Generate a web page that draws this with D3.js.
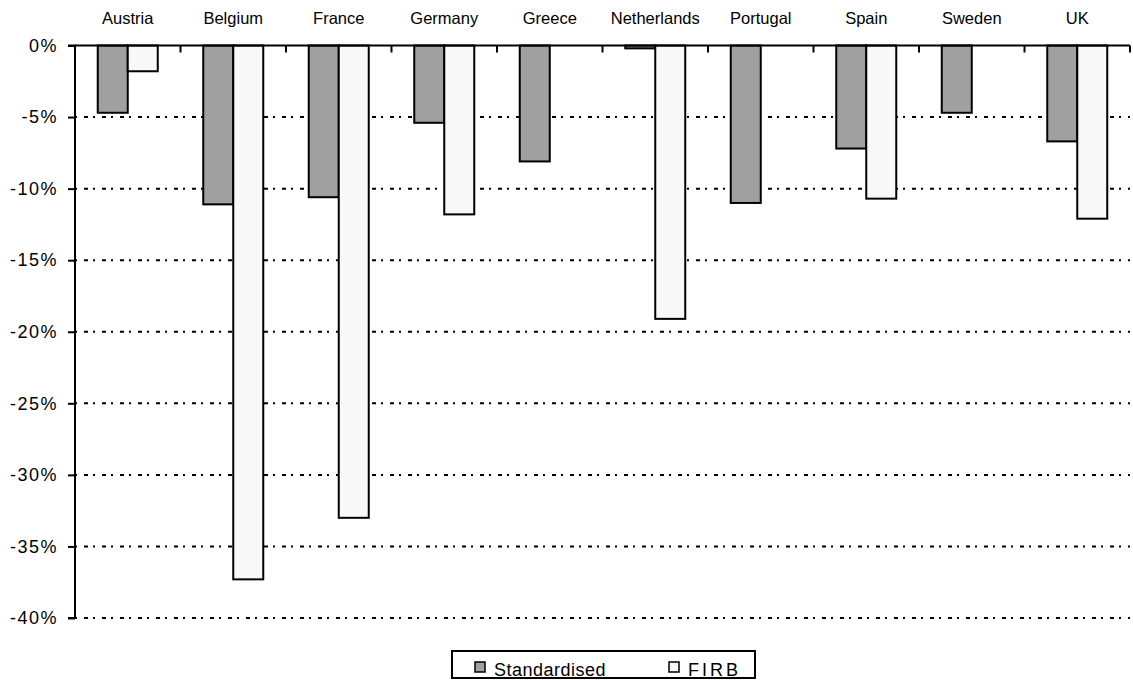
<!DOCTYPE html>
<html>
<head>
<meta charset="utf-8">
<script src="https://cdn.jsdelivr.net/npm/d3@7"></script>
<style>
  html, body { margin: 0; padding: 0; background: #fff; }
  svg { display: block; }
  text { font-family: "Liberation Sans", Arial, sans-serif; fill: #000; }
</style>
</head>
<body>
<svg id="chart" width="1133" height="680"></svg>
<script>
// Countries along the top of the chart
const categories = ["Austria", "Belgium", "France", "Germany", "Greece",
                    "Netherlands", "Portugal", "Spain", "Sweden", "UK"];
// Change in capital requirement (%), by approach
const standardised = [-4.7, -11.1, -10.6, -5.4, -8.1, -0.2, -11.0, -7.2, -4.7, -6.7];
const firb         = [-1.8, -37.3, -33.0, -11.8, null, -19.1, null, -10.7, null, -12.1];
const seriesNames  = ["Standardised", "FIRB"];
const yTicks       = [0, -5, -10, -15, -20, -25, -30, -35, -40];

const svg = d3.select("#chart");
const plotLeft = 75, plotRight = 1130, plotTop = 45.5, plotBottom = 618;

const x0 = d3.scaleBand().domain(categories).range([plotLeft, plotRight]).paddingInner(0).paddingOuter(0);
const groupW = 60;
const x1 = d3.scaleBand().domain(seriesNames).range([0, groupW]);
const y = d3.scaleLinear().domain([0, -40]).range([plotTop, plotBottom]);

const fills = { "Standardised": "#a0a0a0", "FIRB": "#f8f8f8" };

// Dotted horizontal gridlines
svg.append("g")
  .selectAll("line")
  .data(yTicks.filter(d => d !== 0))
  .join("line")
  .attr("x1", plotLeft).attr("x2", plotRight)
  .attr("y1", d => y(d)).attr("y2", d => y(d))
  .attr("stroke", "#000").attr("stroke-width", 2)
  .attr("stroke-dasharray", "2,7,4,5");

// Bars, hanging down from the zero line
const rows = categories.map((c, i) => ({ c, vals: [
  { s: "Standardised", v: standardised[i] },
  { s: "FIRB", v: firb[i] }
].filter(d => d.v !== null) }));

const groups = svg.append("g").selectAll("g")
  .data(rows).join("g")
  .attr("transform", d => `translate(${x0(d.c) + (x0.bandwidth() - groupW) / 2},0)`);

groups.selectAll("rect")
  .data(d => d.vals)
  .join("rect")
  .attr("x", d => x1(d.s))
  .attr("width", x1.bandwidth())
  .attr("y", y(0))
  .attr("height", d => y(d.v) - y(0))
  .attr("fill", d => fills[d.s])
  .attr("stroke", "#000").attr("stroke-width", 2);

// Y axis
const yAxis = d3.axisLeft(y).tickValues(yTicks).tickSize(7).tickPadding(10)
  .tickFormat(d => d + "%");
const gy = svg.append("g").attr("transform", `translate(${plotLeft},0)`).call(yAxis);
gy.select(".domain").attr("stroke", "#000").attr("stroke-width", 2)
  .attr("d", `M-7,${plotTop}H0V${plotBottom}H-7`);
gy.selectAll(".tick line").attr("stroke", "#000").attr("stroke-width", 2);
gy.selectAll(".tick text")
  .style("font-family", "'Liberation Sans', Arial, sans-serif")
  .style("font-size", "18px").style("letter-spacing", "1.5px")
  .attr("fill", "#000");

// Category axis along the zero line, labels above
const xAxis = d3.axisTop(x0).tickSize(0).tickPadding(22);
const gx = svg.append("g").attr("transform", `translate(0,${plotTop})`).call(xAxis);
gx.select(".domain").remove();
gx.selectAll(".tick text")
  .style("font-family", "'Liberation Sans', Arial, sans-serif")
  .style("font-size", "16.5px")
  .attr("fill", "#000");
svg.append("line").attr("x1", plotLeft).attr("x2", plotRight).attr("y1", plotTop).attr("y2", plotTop)
  .attr("stroke", "#000").attr("stroke-width", 2);
// Tick marks between categories, pointing into the plot
const bounds = categories.slice(1).map(c => x0(c)).concat([plotRight]);
svg.append("g").selectAll("line").data(bounds).join("line")
  .attr("x1", d => d).attr("x2", d => d)
  .attr("y1", plotTop).attr("y2", plotTop + 7)
  .attr("stroke", "#000").attr("stroke-width", 2);

// Legend
const lg = svg.append("g");
lg.append("rect").attr("x", 452).attr("y", 651).attr("width", 303).attr("height", 27)
  .attr("fill", "#fff").attr("stroke", "#000").attr("stroke-width", 2);
const legendItems = [
  { s: "Standardised", x: 475, spacing: 0.5 },
  { s: "FIRB", x: 669, spacing: 3 }
];
legendItems.forEach(it => {
  lg.append("rect").attr("x", it.x).attr("y", 662).attr("width", 10).attr("height", 10)
    .attr("fill", fills[it.s]).attr("stroke", "#000").attr("stroke-width", 1.5);
  lg.append("text").attr("x", it.x + 19).attr("y", 675.5)
    .style("font-size", "18px").style("letter-spacing", it.spacing + "px")
    .text(it.s);
});
</script>
</body>
</html>
